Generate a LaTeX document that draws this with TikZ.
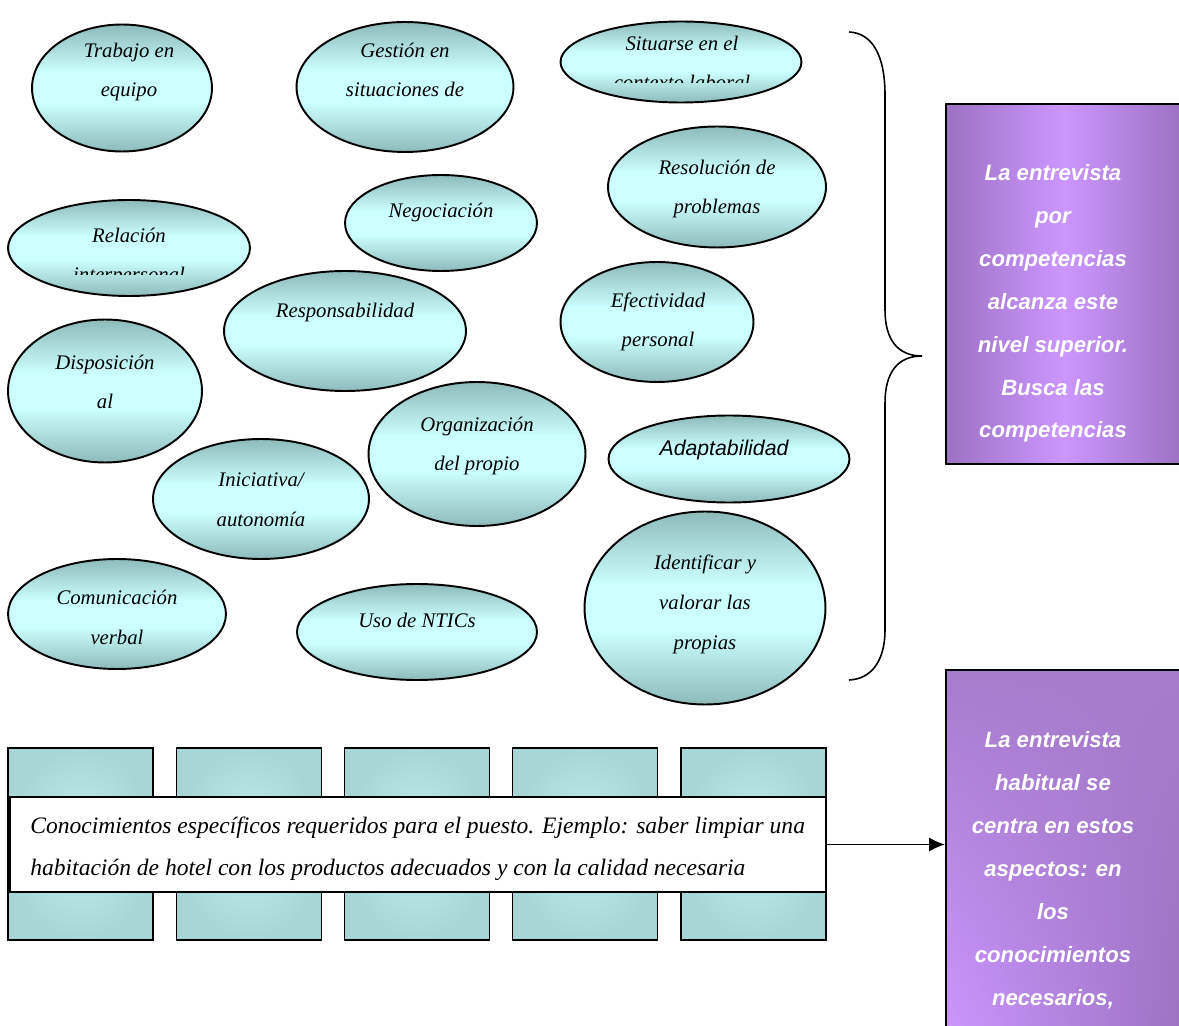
\documentclass[tikz,border=0pt]{standalone}
\usepackage{fontspec}
\setmainfont{Liberation Serif}
\newfontfamily\arialfont{Liberation Sans}
\usetikzlibrary{shapes.geometric,shadings,arrows.meta}
\definecolor{tealdark}{RGB}{142,186,186}
\definecolor{teallight}{RGB}{204,255,255}
\definecolor{coldark}{RGB}{168,214,214}
\definecolor{collight}{RGB}{194,238,238}
\definecolor{lila}{RGB}{204,150,255}
\definecolor{liladark}{RGB}{156,114,194}
\definecolor{lilamid}{RGB}{166,124,204}
\pgfdeclareverticalshading{compshade}{100bp}{color(0bp)=(tealdark); color(25bp)=(tealdark);
    color(44bp)=(teallight); color(56bp)=(teallight); color(75bp)=(tealdark); color(100bp)=(tealdark)}
\begin{document}
\begin{tikzpicture}[x=0.02cm, y=-0.02cm, >={Latex[length=9pt,width=8pt]},
    comp/.style={ellipse, draw, line width=1.1pt, shade, shading=compshade, inner sep=0pt},
    comptxt/.style={anchor=base, align=center, inner sep=0pt, font=\fontsize{11.8}{22.7}\selectfont\itshape},
    colbox/.style={draw, line width=0.8pt, inner color=collight, outer color=coldark, minimum width=29mm, minimum height=38.4mm},
    lilatxt/.style={anchor=base, align=center, inner sep=0pt, text=white, font=\arialfont\fontsize{12.6}{24.4}\bfseries\itshape\selectfont}]
    \useasboundingbox (0,0) rectangle (1179,1026);
    % competencias (texto anclado en la ultima linea)
    \node[comp, minimum width=36mm, minimum height=25.4mm] (trabajo) at (122,88) {};
    \node[comptxt] (trabajo-t) at (129,97) {Trabajo en\\equipo};
    \node[comp, minimum width=43.4mm, minimum height=26mm] (gestion) at (405,87) {};
    \node[comptxt] (gestion-t) at (405,97) {Gestión en\\situaciones de};
    \node[comp, minimum width=48.2mm, minimum height=16.2mm] (situarse) at (681,62) {};
    \begin{scope}
        \clip (0,0) rectangle (1179,83);
        \node[comptxt] (situarse-t) at (682,90) {Situarse en el\\contexto laboral};
    \end{scope}
    \node[comp, minimum width=43.6mm, minimum height=24.2mm] (resolucion) at (717,187) {};
    \node[comptxt] (resolucion-t) at (717,214) {Resolución de\\problemas};
    \node[comp, minimum width=38.4mm, minimum height=19.2mm] (negociacion) at (441,223) {};
    \node[comptxt] (negociacion-t) at (441,218) {Negociación};
    \node[comp, minimum width=48.4mm, minimum height=19.2mm] (relacion) at (129,248) {};
    \begin{scope}
        \clip (0,0) rectangle (1179,275);
        \node[comptxt] (relacion-t) at (129,282) {Relación\\interpersonal};
    \end{scope}
    \node[comp, minimum width=48.4mm, minimum height=24mm] (responsab) at (345,331) {};
    \node[comptxt] (responsab-t) at (345,318) {Responsabilidad};
    \node[comp, minimum width=38.6mm, minimum height=24mm] (efectividad) at (657,322) {};
    \node[comptxt] (efectividad-t) at (658,347) {Efectividad\\personal};
    \node[comp, minimum width=38.8mm, minimum height=28.6mm] (disposicion) at (105,391) {};
    \node[comptxt] (disposicion-t) at (105,409) {Disposición\\al};
    \node[comp, minimum width=43.4mm, minimum height=28.8mm] (organizacion) at (477,454) {};
    \node[comptxt] (organizacion-t) at (477,471) {Organización\\del propio};
    \node[comp, minimum width=48.2mm, minimum height=17.4mm] (adaptab) at (729,459) {};
    \node[comptxt, font=\arialfont\fontsize{12.1}{22.7}\itshape\selectfont] (adaptab-t) at (724,456) {Adaptabilidad};
    \node[comp, minimum width=43.2mm, minimum height=24mm] (iniciativa) at (261,499) {};
    \node[comptxt] (iniciativa-t) at (261,526) {Iniciativa/\\autonomía};
    \node[comp, minimum width=43.6mm, minimum height=22mm] (comunicacion) at (117,614) {};
    \node[comptxt] (comunicacion-t) at (117,644) {Comunicación\\verbal};
    \node[comp, minimum width=48mm, minimum height=19.2mm] (ntics) at (417,632) {};
    \node[comptxt] (ntics-t) at (417,627) {Uso de NTICs};
    \node[comp, minimum width=48.2mm, minimum height=38.6mm] (identificar) at (705,608) {};
    \node[comptxt] (identificar-t) at (705,649) {Identificar y\\valorar las\\propias};
    % llave
    \draw[line width=0.9pt] (849,32) .. controls (872,33) and (885,55) .. (885,95) -- (885,310)
        .. controls (885,340) and (898,356) .. (922,356) .. controls (898,356) and (885,372) .. (885,403)
        -- (885,630) .. controls (885,660) and (872,679) .. (849,680);
    % cuadros lila
    \node[draw, line width=0.9pt, left color=liladark, right color=liladark, middle color=lila,
        minimum width=47.2mm, minimum height=72mm, anchor=north west, inner sep=0pt] (nivelsup) at (945,103) {};
    \node[lilatxt] (nivelsup-t) at (1053,438) {La entrevista\\por\\competencias\\alcanza este\\nivel superior.\\Busca las\\competencias};
    \node[draw, shade, line width=0.9pt, shading=bilinear interpolation, upper left=lilamid, upper right=lilamid,
        lower left=lila, lower right=liladark, minimum width=47.2mm, minimum height=73mm, anchor=north west, inner sep=0pt] (habitual) at (945,669) {};
    \node[lilatxt] (habitual-t) at (1053,1005) {La entrevista\\habitual se\\centra en estos\\aspectos: en\\los\\conocimientos\\necesarios,};
    % conocimientos
    \foreach \i in {0,...,4}
        \node[colbox] (col\i) at (80.5+168.25*\i,844) {};
    \node[draw, fill=white, line width=0.8pt, minimum width=163.2mm, minimum height=19mm, inner sep=0pt] (conoc) at (418,844.5) {};
    \node[anchor=base west, align=left, inner sep=0pt, font=\fontsize{13.4}{23.8}\selectfont\itshape] (conoc-t) at (30,875)
        {Conocimientos específicos requeridos para el puesto. Ejemplo: saber limpiar una\\habitación de hotel con los productos adecuados y con la calidad necesaria};
    \draw[->, line width=1pt] (conoc.east) -- (habitual.west |- conoc.east);
\end{tikzpicture}
\end{document}
